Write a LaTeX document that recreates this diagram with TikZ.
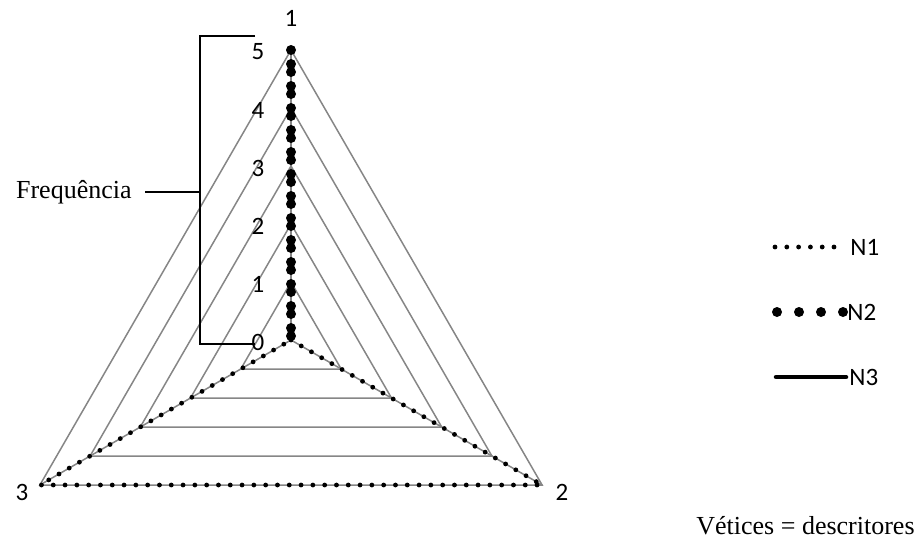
\documentclass[tikz,border=0pt]{standalone}
\usepackage{fontspec}
\setmainfont{Liberation Serif}
\newfontfamily\calibri{Carlito}
\usetikzlibrary{positioning}
\definecolor{gridgray}{RGB}{134,134,134}
\tikzset{
  gridline/.style={draw=gridgray, line width=0.75pt},
  bracket/.style={draw=black, line width=1pt},
  seriesA/.style={line width=2.4pt, line cap=round, dash pattern=on 0pt off 5.9pt},
  seriesB/.style={line width=5pt, line cap=round, dash pattern=on 0pt off 11pt},
  seriesC/.style={line width=2.25pt, line cap=round},
  lbl/.style={font=\calibri\fontsize{12.5}{14}\selectfont, inner sep=0pt},
  txt/.style={font=\fontsize{13}{15}\selectfont, inner sep=0pt}
}

\begin{document}
\begin{tikzpicture}[x=0.5pt, y=-0.5pt]
                \useasboundingbox (0,0) rectangle (919,542);
                % radar centre and axis ends
                \coordinate (c) at (291,340);
                \coordinate (v1) at (291,50);
                \coordinate (v2) at (542.1,485);
                \coordinate (v3) at (39.9,485);
                % grid triangles
                \draw[gridline] (291,282) -- (341.2,369) -- (240.8,369) -- cycle;
                \draw[gridline] (291,224) -- (391.5,398) -- (190.5,398) -- cycle;
                \draw[gridline] (291,166) -- (441.7,427) -- (140.3,427) -- cycle;
                \draw[gridline] (291,108) -- (491.9,456) -- (90.1,456) -- cycle;
                \draw[gridline] (v1) -- (v2) -- (v3) -- cycle;
                \draw[gridline] (c) -- (v1);
                \draw[gridline] (c) -- (v2);
                \draw[gridline] (c) -- (v3);
                % series
                \draw[seriesA] (c) -- (v2) -- (v3) -- (c);
                \draw[seriesB] (v1) -- (c);
                \draw[seriesB, dash phase=5pt] (c) -- (v1);
                % axis labels
                \node[lbl] (ax1) at (291,18) {1};
                \node[lbl] (ax2) at (562,492) {2};
                \node[lbl] (ax3) at (22,492) {3};
                % scale labels
                \node[lbl] (s5) at (258,52) {5};
                \node[lbl] (s4) at (258,110) {4};
                \node[lbl] (s3) at (258,168) {3};
                \node[lbl] (s2) at (258,226) {2};
                \node[lbl] (s1) at (258,284) {1};
                \node[lbl] (s0) at (258,342) {0};
                % bracket
                \coordinate (bt) at (200,36);
                \coordinate (bb) at (200,344);
                \coordinate (bte) at (255,36);
                \coordinate (bbe) at (255,344);
                \coordinate (bm) at (200,192);
                \draw[bracket] (bte) -- (bt) -- (bb) -- (bbe);
                \node[txt, anchor=east] (freq) at (132,192) {Frequência};
                \draw[bracket] ([xshift=6.5pt]freq.east) -- (bm);
                % legend
                \coordinate (l1a) at (775,247);
                \coordinate (l1b) at (834,247);
                \draw[seriesA] (l1a) -- (l1b);
                \node[lbl, anchor=west] (n1) at (850,247) {N1};
                \coordinate (l2a) at (777,312);
                \coordinate (l2b) at (844,312);
                \draw[seriesB] (l2a) -- (l2b);
                \node[lbl, anchor=west] (n2) at (847,312) {N2};
                \coordinate (l3a) at (776,377);
                \coordinate (l3b) at (846,377);
                \draw[seriesC] (l3a) -- (l3b);
                \node[lbl, anchor=west] (n3) at (849,377) {N3};
                \node[txt, anchor=east] (note) at (915,526) {Vétices = descritores};
\end{tikzpicture}
\end{document}
